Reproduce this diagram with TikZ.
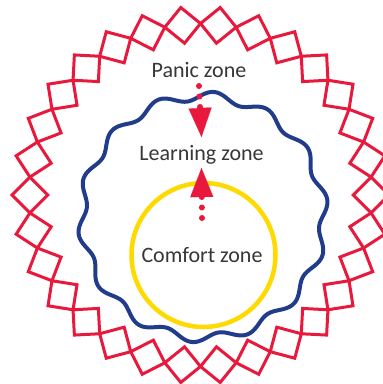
\documentclass[tikz,border=0pt]{standalone}
\usepackage{fontspec}
\setmainfont{Carlito}
\usetikzlibrary{arrows.meta,calc}
\definecolor{zred}{RGB}{232,25,60}
\definecolor{zblue}{RGB}{34,60,140}
\definecolor{zyellow}{RGB}{255,218,0}
\definecolor{ztext}{RGB}{55,55,55}
\tikzset{
  sqbox/.style={draw=zred,line width=3pt,line join=miter},
  wave/.style={draw=zblue,line width=4pt,line join=round},
  comfortring/.style={draw=zyellow,line width=4.5pt},
  zonelabel/.style={anchor=base,text=ztext,font=\fontsize{22}{24}\selectfont,inner sep=0pt},
  flow/.style={draw=zred,line width=6pt,line cap=round,dash pattern=on 0pt off 10.5pt,
    -{Triangle[width=23pt,length=29pt,line width=0.1pt,fill=zred]}}
}
\begin{document}
\begin{tikzpicture}[x=1pt,y=-1pt]
\useasboundingbox (0,0) rectangle (383,384);
\clip (0,0) rectangle (383,384);
\fill[white] (0,0) rectangle (383,384);
% outer chain of squares (panic zone)
\foreach \k in {0,...,29}{
  \pgfmathsetmacro\aa{90+12*\k}
  \pgfmathsetmacro\bb{102+12*\k}
  \coordinate (P) at ({200.5+171.5*cos(\aa)},{195-171.5*sin(\aa)});
  \coordinate (Q) at ({200.5+171.5*cos(\bb)},{195-171.5*sin(\bb)});
  \coordinate (M) at ($(P)!0.5!(Q)$);
  \draw[sqbox] (P) -- ($(M)!1!90:(Q)$) -- (Q) -- ($(M)!1!-90:(Q)$) -- cycle;
}
% wavy learning zone boundary
\draw[wave] plot[domain=0:360,samples=400,smooth]
  ({203+(121+4.5*cos(14*(\x-85)))*cos(\x)},{217-(121+4.5*cos(14*(\x-85)))*sin(\x)}) -- cycle;
% comfort zone circle
\node[comfortring,circle,minimum size=144pt,inner sep=0pt] (ring) at (203.5,255) {};
% labels
\node[zonelabel] (panic) at (199,77) {Panic zone};
\node[zonelabel] (learning) at (201.5,160) {Learning zone};
\node[zonelabel] (comfort) at (202,262) {Comfort zone};
% arrows
\coordinate (pstart) at ([yshift=-9pt]panic.base);
\coordinate (ltop) at ([yshift=23pt]learning.base);
\coordinate (cstart) at ([yshift=44pt]comfort.base);
\coordinate (lbot) at ([yshift=-8pt]learning.base);
\draw[flow] (pstart) -- (ltop);
\draw[flow] (cstart) -- (lbot);
\end{tikzpicture}
\end{document}
